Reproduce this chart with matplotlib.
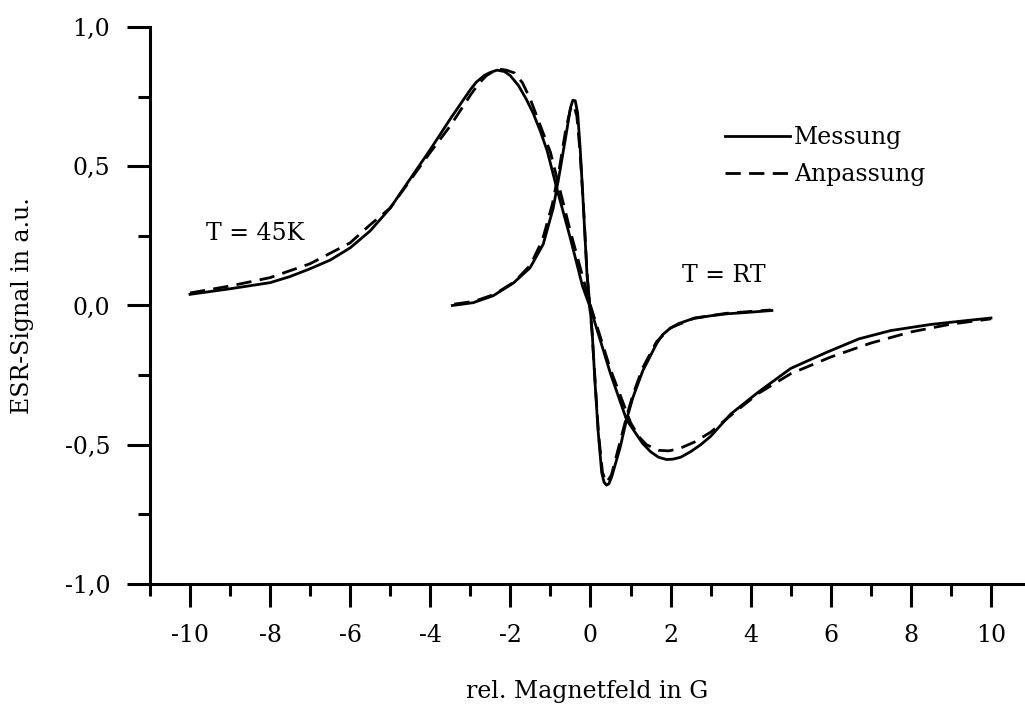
import matplotlib
matplotlib.use("Agg")
import matplotlib.pyplot as plt
from matplotlib.ticker import MultipleLocator, FuncFormatter

plt.rcParams['font.family'] = ['DejaVu Serif']
plt.rcParams['axes.unicode_minus'] = False

# T = 45K, Messung (gemessen)
x45_mess = [-10.0, -9.0, -8.0, -7.5, -7.0, -6.5, -6.0, -5.5, -5.0, -4.5, -4.0, -3.5,
            -3.0, -2.85, -2.65, -2.5, -2.33, -2.15, -2.0, -1.8, -1.6, -1.43, -1.25, -1.08,
            -0.84, -0.5, -0.2, 0.0, 0.5, 0.9, 1.3, 1.5, 1.7, 1.9, 2.05, 2.25, 2.5, 2.75,
            3.0, 3.5, 4.2, 5.0, 5.9, 6.7, 7.5, 8.5, 9.4, 10.0]
y45_mess = [0.04, 0.06, 0.082, 0.104, 0.132, 0.163, 0.207, 0.268, 0.35, 0.455, 0.56, 0.67,
            0.775, 0.802, 0.826, 0.837, 0.845, 0.84, 0.825, 0.79, 0.74, 0.69, 0.625, 0.555,
            0.42, 0.24, 0.07, -0.01, -0.245, -0.41, -0.495, -0.525, -0.545, -0.553, -0.552,
            -0.545, -0.525, -0.5, -0.47, -0.39, -0.31, -0.226, -0.168, -0.12, -0.09, -0.068,
            -0.054, -0.045]

# T = 45K, Anpassung (Fit)
x45_fit = [-10.0, -9.0, -8.0, -7.0, -6.0, -5.5, -5.0, -4.5, -4.0, -3.5, -3.0, -2.8, -2.6,
           -2.4, -2.25, -2.1, -1.9, -1.7, -1.5, -1.0, -0.5, 0.0, 0.5, 1.0, 1.2, 1.4, 1.7,
           1.95, 2.2, 2.6, 3.0, 3.5, 4.2, 5.0, 6.0, 7.0, 8.0, 9.0, 10.0]
y45_fit = [0.045, 0.07, 0.1, 0.15, 0.225, 0.29, 0.35, 0.45, 0.55, 0.645, 0.755, 0.795, 0.825,
           0.843, 0.848, 0.845, 0.835, 0.8, 0.74, 0.55, 0.265, 0.0, -0.23, -0.42, -0.47,
           -0.5, -0.52, -0.522, -0.515, -0.49, -0.455, -0.395, -0.315, -0.245, -0.185,
           -0.135, -0.095, -0.067, -0.048]

# T = RT, Messung
xrt_mess = [-3.45, -2.93, -2.43, -1.93, -1.51, -1.18, -0.93, -0.76, -0.59, -0.5, -0.44, -0.38,
            -0.32, -0.26, -0.19, -0.09, 0.04, 0.11, 0.19, 0.28, 0.34, 0.4, 0.46, 0.53, 0.74,
            0.9, 1.06, 1.31, 1.5, 1.65, 1.8, 1.98, 2.2, 2.56, 3.0, 3.4, 4.0, 4.53]
yrt_mess = [0.0, 0.01, 0.035, 0.08, 0.135, 0.22, 0.35, 0.485, 0.63, 0.71, 0.737, 0.735,
            0.69, 0.57, 0.39, 0.12, -0.09, -0.27, -0.45, -0.60, -0.635, -0.645, -0.64, -0.615,
            -0.51, -0.41, -0.33, -0.233, -0.18, -0.137, -0.105, -0.083, -0.065, -0.047,
            -0.037, -0.03, -0.024, -0.018]

# T = RT, Anpassung
xrt_fit = [-3.4, -2.9, -2.4, -1.9, -1.5, -1.2, -0.95, -0.78, -0.62, -0.5, -0.42, -0.34, -0.26,
           -0.18, -0.08, 0.04, 0.12, 0.2, 0.3, 0.4, 0.52, 0.72, 0.9, 1.06, 1.3, 1.65, 2.0,
           2.6, 3.4, 4.5]
yrt_fit = [0.005, 0.015, 0.04, 0.085, 0.145, 0.235, 0.365, 0.49, 0.63, 0.705, 0.72, 0.68,
           0.55, 0.37, 0.1, -0.1, -0.28, -0.46, -0.6, -0.635, -0.61, -0.5, -0.40, -0.32,
           -0.225, -0.13, -0.08, -0.045, -0.028, -0.016]

fs = 17
fig = plt.figure(figsize=(10.25, 7.06), dpi=100)
ax = fig.add_axes([0.1463, 0.1728, 0.8537, 0.789])

ax.plot(x45_mess, y45_mess, color='black', lw=2, label='Messung')
ax.plot(x45_fit, y45_fit, color='black', lw=2, linestyle=(0, (5.5, 3)), label='Anpassung')
ax.plot(xrt_mess, yrt_mess, color='black', lw=2)
ax.plot(xrt_fit, yrt_fit, color='black', lw=2, linestyle=(0, (5.5, 3)))

ax.set_xlim(-11, 10.85)
ax.set_ylim(-1, 1)

for s in ['top', 'right']:
    ax.spines[s].set_visible(False)
for s in ['left', 'bottom']:
    ax.spines[s].set_linewidth(2.2)

ax.xaxis.set_major_locator(MultipleLocator(2))
ax.xaxis.set_minor_locator(MultipleLocator(1))
ax.yaxis.set_major_locator(MultipleLocator(0.5))
ax.yaxis.set_minor_locator(MultipleLocator(0.25))
ax.xaxis.set_major_formatter(FuncFormatter(lambda v, p: f"{v:.0f}"))
ax.yaxis.set_major_formatter(FuncFormatter(lambda v, p: f"{v:.1f}".replace('.', ',')))
ax.tick_params(which='major', direction='out', length=16.5, width=2.2, pad=12, labelsize=fs)
ax.tick_params(which='minor', direction='out', length=8.5, width=2.2)
ax.set_xticks([-10, -8, -6, -4, -2, 0, 2, 4, 6, 8, 10])

ax.set_xlabel('rel. Magnetfeld in G', fontsize=fs, labelpad=24)
ax.set_ylabel('ESR-Signal in a.u.', fontsize=fs, labelpad=22)

ax.text(-9.61, 0.26, 'T = 45K', fontsize=fs, ha='left', va='center')
ax.text(2.28, 0.107, 'T = RT', fontsize=fs, ha='left', va='center')

ax.legend(loc='upper left', bbox_to_anchor=(3.35, 0.645), bbox_transform=ax.transData,
          frameon=False, fontsize=fs, handlelength=2.75, handletextpad=0.2,
          labelspacing=0.62, borderpad=0, borderaxespad=0)

fig.savefig('out.png', dpi=100)
